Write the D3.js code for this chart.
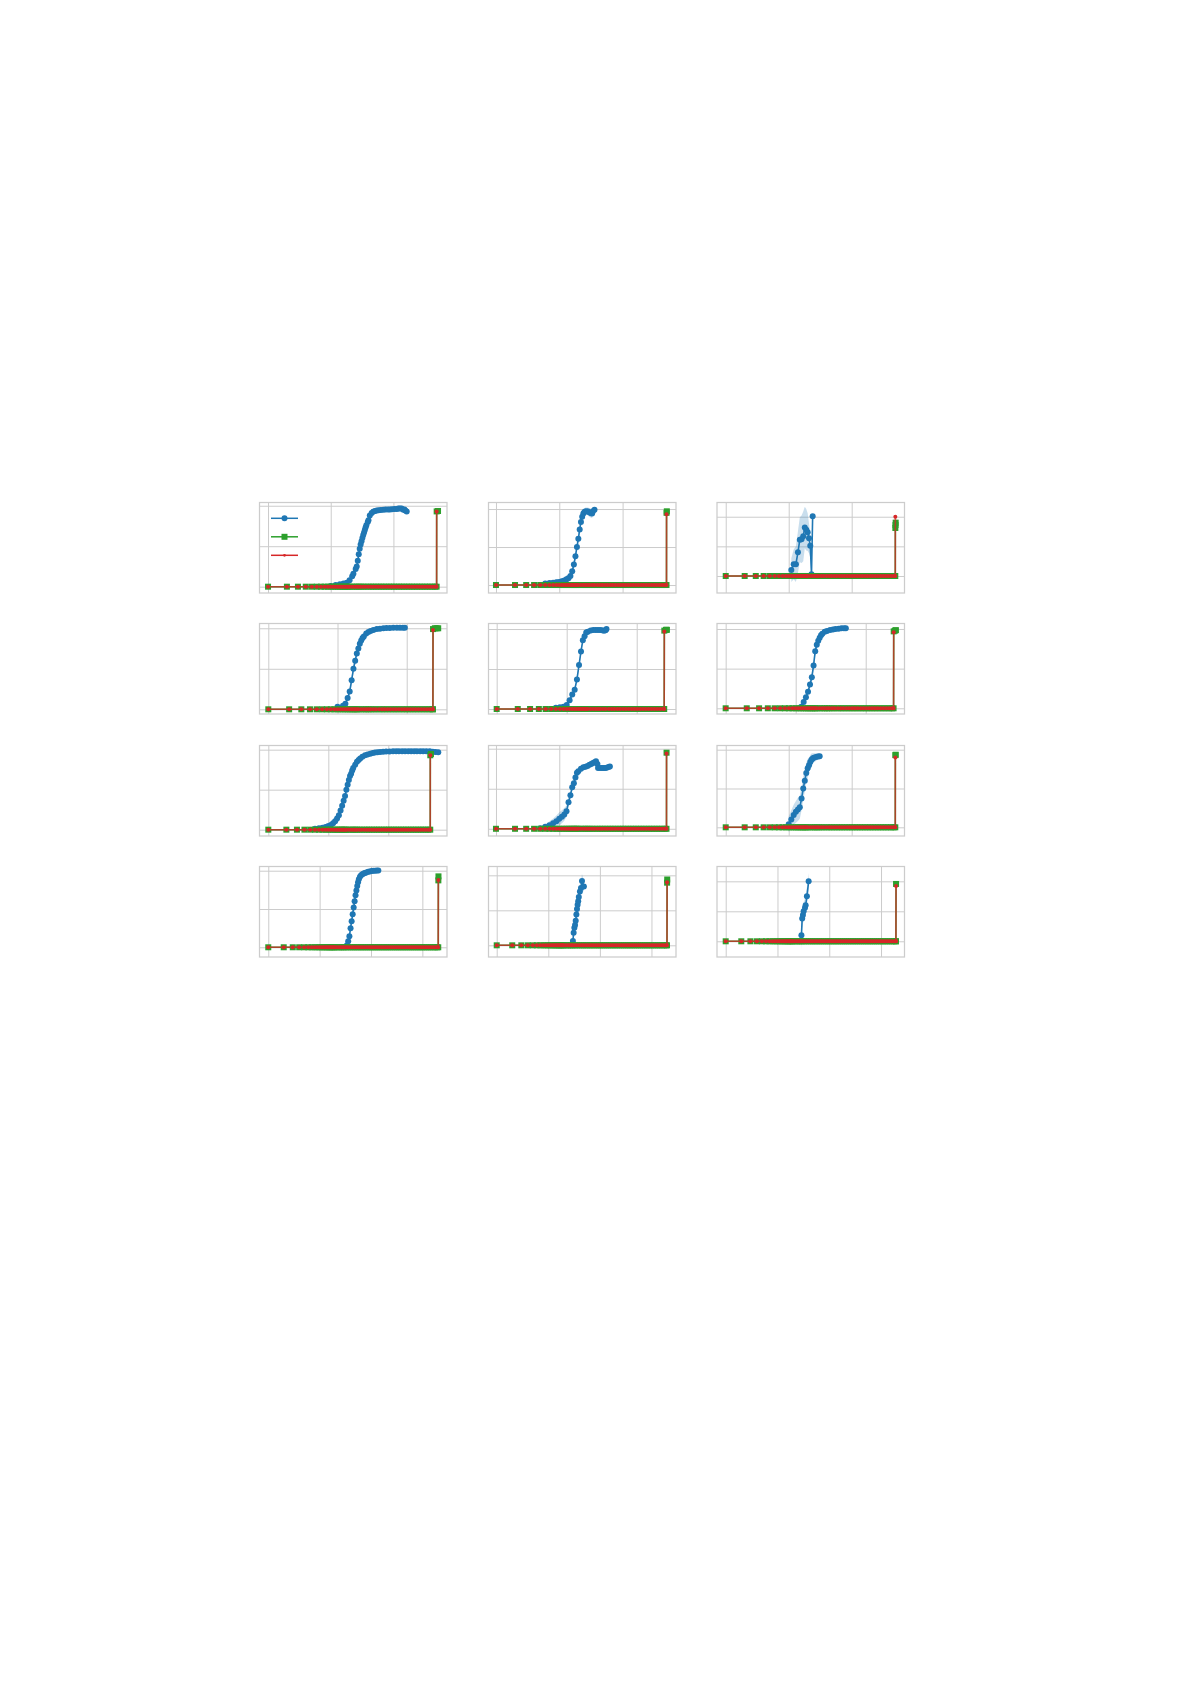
<!DOCTYPE html>
<html lang="en">
<head>
<meta charset="utf-8">
<title>Panels</title>
<script src="https://cdn.jsdelivr.net/npm/d3@7"></script>
<style>
  body { margin: 0; background: #fff; }
  svg { display: block; }
</style>
</head>
<body>
<script>

// panels are numbered row by row, left to right (0..11)

// axis limits (x is log)
var xLimits = [[0.731, 716], [0.762, 698], [0.727, 689],
               [0.746, 382], [0.764, 364], [0.752, 358],
               [0.713, 951], [0.762, 698], [0.727, 689],
               [0.675, 3020], [0.693, 2990], [0.679, 2840]];
var yLimits = [[-0.078, 1.04], [-0.105, 1.086], [-0.287, 1.24],
               [-0.058, 1.059], [-0.0625, 1.069], [-0.072, 1.069],
               [-0.079, 1.052], [-0.09, 1.04], [-0.112, 1.054],
               [-0.127, 1.055], [-0.167, 1.126], [-0.262, 1.247]];
// tick values (labels are not shown), one list per row
var xTicks = [[1, 10, 100], [1, 10, 100], [1, 10, 100], [1, 10, 100, 1000]];
var yTicks = [0, 0.5, 1];

// blue series: steps, mean and half width of the shaded band
var blueSteps = [
  [10,12,14,16,18, 20,22,23,25,26, 27,28,29,30,31, 32,33,34,35,36, 37,39,40,42,45, 48,51,54,58,63, 69,75,82,88,95, 104,113,120,127,135, 144,150,155,163],
  [6,7,8,9,10, 11,12,13,14,15, 16,17,18,19,20, 21,22,23,24,25, 26,28,30,32,33, 34,36],
  [11,12,13,14,15,16,17,18,19,20,21,22,23,24],
  [10,12,13,14,15, 16,17,18,19,20, 21,22,23,24,26, 28,30,33,37,41, 46,51,57,64,72, 80,88,94],
  [7,8,9,10,11, 12,13,14,15,16, 17,18,19,20,22, 24,26,28,30,32, 34,36,37],
  [12,13,14,15,16, 17,18,19,20,21, 22,23,24,26,28, 31,34,37,41,45, 49,52],
  [6,7,8,9,10, 11,12,13,14,15, 16,17,18,19,20, 21,22,23,24,25, 26,28,30,32,34, 37,41,45,50,55, 60,66,73,82,92, 105,120,135,150,170, 190,215,240,270,300, 340,380,430,490,550, 610,680],
  [5,6,7,8,9, 10,11,12,13,14, 15,16,17,18,19, 20,22,24,26,28, 30,32,34,36,38, 40,41,44,47,50, 53,56,60,63],
  [10,11,12,13,14, 15,16,17,18,19, 20,21,22,23,24, 25,27,29,31],
  [34,36,38,40,42, 44,46,48,50,52, 54,56,58,61,64, 68,72,76,81,88, 95,103,111,120,130, 139],
  [30,31,32,33,34,35,36,37,38,39,41,43,45,49],
  [29,30,31,32,34,35,37,40]
];
var blueMean = [
  [0.01,0.02,0.03,0.04,0.05, 0.08,0.13,0.16,0.22,0.25, 0.32,0.40,0.47,0.52,0.56, 0.60,0.64,0.67,0.70,0.73, 0.76,0.80,0.82,0.88,0.91, 0.93,0.935,0.94,0.945,0.948, 0.95,0.952,0.955,0.955,0.957, 0.96,0.96,0.965,0.967,0.965, 0.95,0.955,0.94,0.93],
  [0.02,0.025,0.03,0.035,0.04, 0.05,0.06,0.075,0.09,0.12, 0.18,0.27,0.38,0.5,0.61, 0.73,0.83,0.9,0.94,0.96, 0.97,0.97,0.955,0.945,0.94, 0.97,0.99],
  [0.10,0.197,0.20,0.40,0.61,0.62,0.67,0.82,0.78,0.74,0.635,0.51,0.03,1.01],
  [0.03,0.045,0.07,0.14,0.22, 0.36,0.5,0.6,0.69,0.75, 0.81,0.85,0.88,0.9,0.935, 0.955,0.967,0.98,0.99,0.995, 1.0,1.003,1.005,1.007,1.008, 1.008,1.008,1.008],
  [0.017,0.022,0.029,0.05,0.11, 0.18,0.24,0.37,0.55,0.72, 0.86,0.91,0.955,0.965,0.98, 0.988,0.988,0.988,0.988,0.985, 0.978,0.985,1.0],
  [0.02,0.08,0.14,0.21,0.3, 0.39,0.54,0.72,0.8,0.85, 0.89,0.92,0.94,0.965,0.975, 0.987,0.994,0.999,1.003,1.008, 1.008,1.008],
  [0.013,0.018,0.025,0.035,0.045, 0.06,0.08,0.105,0.14,0.18, 0.24,0.3,0.36,0.42,0.5, 0.56,0.62,0.67,0.7,0.74, 0.77,0.81,0.85,0.87,0.89, 0.91,0.93,0.94,0.95,0.958, 0.963,0.967,0.971,0.975,0.977, 0.978,0.979,0.979,0.979,0.979, 0.979,0.979,0.979,0.979,0.979, 0.979,0.979,0.979,0.979,0.975, 0.97,0.967],
  [0.008,0.025,0.045,0.07,0.095, 0.125,0.15,0.18,0.22,0.33, 0.42,0.52,0.57,0.64,0.7, 0.72,0.75,0.767,0.775,0.785, 0.8,0.81,0.82,0.83,0.842, 0.81,0.76,0.758,0.758,0.758, 0.758,0.762,0.77,0.779],
  [0.04,0.1,0.16,0.2,0.23, 0.26,0.37,0.5,0.6,0.7, 0.76,0.8,0.84,0.87,0.885, 0.895,0.905,0.912,0.915],
  [0.026,0.08,0.145,0.25,0.34, 0.43,0.52,0.6,0.68,0.74, 0.8,0.85,0.89,0.92,0.94, 0.955,0.965,0.97,0.978,0.985, 0.991,0.995,0.998,1.0,1.003, 1.004],
  [0.06,0.18,0.25,0.29,0.35,0.44,0.52,0.58,0.63,0.69,0.77,0.82,0.92,0.84],
  [0.1,0.38,0.44,0.5,0.56,0.6,0.75,1.0]
];
var blueSpread = [
  [0.01,0.01,0.015,0.02,0.02, 0.03,0.03,0.04,0.04,0.04, 0.05,0.05,0.05,0.05,0.05, 0.05,0.04,0.04,0.04,0.04, 0.03,0.03,0.03,0.02,0.02, 0.02,0.02,0.01,0.01,0.01, 0.01,0.01,0.01,0.01,0.01, 0.01,0.01,0.01,0.01,0.01, 0.01,0.01,0.01,0.01],
  [0.02,0.03,0.03,0.04,0.04, 0.04,0.04,0.05,0.05,0.05, 0.05,0.05,0.05,0.05,0.05, 0.05,0.05,0.05,0.05,0.05, 0.05,0.05,0.06,0.06,0.06, 0.04,0.03],
  [0.2,0.25,0.3,0.35,0.38,0.4,0.42,0.35,0.35,0.32,0.25,0.2,0.05,0.02],
  [0.01,0.015,0.02,0.03,0.04, 0.05,0.05,0.05,0.05,0.05, 0.04,0.04,0.03,0.03,0.02, 0.02,0.015,0.01,0.01,0.01, 0.01,0.01,0.01,0.01,0.01, 0.01,0.01,0.01],
  [0.01,0.01,0.015,0.02,0.03, 0.03,0.03,0.04,0.04,0.04, 0.03,0.03,0.02,0.02,0.02, 0.015,0.015,0.015,0.015,0.015, 0.015,0.015,0.01],
  [0.02,0.03,0.03,0.04,0.05, 0.06,0.06,0.06,0.06,0.05, 0.05,0.04,0.03,0.02,0.02, 0.01,0.01,0.01,0.01,0.01, 0.01,0.01],
  [0.01,0.01,0.015,0.02,0.03, 0.04,0.05,0.05,0.05,0.05, 0.05,0.05,0.04,0.04,0.03, 0.03,0.03,0.02,0.02,0.02, 0.015,0.015,0.01,0.01,0.01, 0.01,0.01,0.01,0.01,0.01, 0.01,0.01,0.01,0.01,0.01, 0.01,0.01,0.01,0.01,0.01, 0.01,0.01,0.01,0.01,0.01, 0.01,0.01,0.01,0.01,0.01, 0.01,0.01],
  [0.02,0.03,0.05,0.06,0.07, 0.08,0.08,0.08,0.07,0.06, 0.05,0.05,0.04,0.04,0.03, 0.03,0.03,0.03,0.03,0.03, 0.03,0.03,0.03,0.03,0.03, 0.02,0.02,0.02,0.02,0.02, 0.02,0.02,0.02,0.02],
  [0.1,0.12,0.13,0.14,0.15, 0.15,0.15,0.15,0.14,0.13, 0.12,0.1,0.09,0.08,0.07, 0.06,0.05,0.04,0.04],
  [0.03,0.03,0.03,0.03,0.03, 0.03,0.03,0.03,0.02,0.02, 0.02,0.02,0.02,0.02,0.02, 0.01,0.01,0.01,0.01,0.01, 0.01,0.01,0.01,0.01,0.01, 0.01],
  [0.1,0.1,0.1,0.1,0.1,0.1,0.1,0.1,0.1,0.1,0.1,0.1,0.1,0.08],
  [0.25,0.18,0.15,0.15,0.15,0.15,0.15,0.14]
];

// green and red sit at 0 on these steps until their last few evaluations
var baseSteps = [1,2,3,4,5,6,7,8,9,10,11,12,13,14,15,16,17,18,19,20,22,24,26,28,30,33,36,40,44,48,
  53,58,64,70,77,85,93,102,112,123,135,148,163,179,197,216,238,262,288,317,348,383,421,463,509,
  560,616,678,745,820,902,992,1091,1200,1320,1452,1597,1757,1933];

// last evaluations [step, value]
var greenTail = [
  [[489,0],[490,0.93],[515,0.935]],
  [[494,0],[495,0.95],[500,0.97]],
  [[492,0],[493,0.81],[496,0.86],[499,0.9]],
  [[239,0],[240,0.99],[255,1.0],[270,1.0],[285,1.0]],
  [[247,0],[248,0.98],[262,0.99],[270,0.99]],
  [[250,0],[251,0.97],[262,0.98],[270,0.985]],
  [[500,0],[501,0.93],[514,0.946]],
  [[494,0],[495,0.95]],
  [[492,0],[493,0.93],[500,0.935]],
  [[2040,0],[2050,0.874],[2060,0.926]],
  [[2000,0],[2010,0.895],[2020,0.94]],
  [[1940,0],[1950,0.956]]
];
var redTail = [
  [[489,0],[490,0.93]],
  [[494,0],[495,0.93]],
  [[492,0],[493,1.0]],
  [[239,0],[240,0.98]],
  [[247,0],[248,0.97]],
  [[250,0],[251,0.96]],
  [[500,0],[501,0.93]],
  [[494,0],[495,0.94]],
  [[492,0],[493,0.9]],
  [[2040,0],[2050,0.88]],
  [[2000,0],[2010,0.9]],
  [[1940,0],[1950,0.92]]
];

var legendSeries = ["blue", "green", "red"];

var colors = { blue: "#1f77b4", green: "#2ca02c", red: "#d62728" };

var W = 1192, H = 1685;
var colLeft = [259.5, 488.5, 717];
var rowTop = [502.5, 623.5, 745.5, 866.5];
var pw = 187.5, ph = 90.5;
var blueR = 3.0, sq = 6, redR = 2.0;

var svg = d3.select("body").append("svg").attr("width", W).attr("height", H);
svg.append("rect").attr("width", W).attr("height", H).attr("fill", "#fff");

for (var i = 0; i < 12; i++) drawPanel(i);
drawLegend();

function gridStyle(sel) {
  sel.select(".domain").remove();
  sel.selectAll("line").attr("stroke", "#cccccc").attr("stroke-width", 1);
}

function drawPanel(i) {
  var row = Math.floor(i / 3), col = i % 3;
  var g = svg.append("g")
    .attr("transform", "translate(" + colLeft[col] + "," + rowTop[row] + ")");

  var x = d3.scaleLog().domain(xLimits[i]).range([0, pw]);
  var y = d3.scaleLinear().domain(yLimits[i]).range([ph, 0]);

  g.append("clipPath").attr("id", "clip" + i)
    .append("rect").attr("width", pw).attr("height", ph);

  // grid
  g.append("g").attr("transform", "translate(0," + ph + ")")
    .call(d3.axisBottom(x).tickValues(xTicks[row]).tickSize(-ph).tickFormat(""))
    .call(gridStyle);
  g.append("g")
    .call(d3.axisLeft(y).tickValues(yTicks).tickSize(-pw).tickFormat(""))
    .call(gridStyle);

  var plot = g.append("g").attr("clip-path", "url(#clip" + i + ")");

  // blue: band, line, dots
  var blue = blueSteps[i].map(function(s, k) {
    return { x: s, y: blueMean[i][k], s: blueSpread[i][k] };
  });
  plot.append("path").datum(blue)
    .attr("d", d3.area()
      .x(function(d) { return x(d.x); })
      .y0(function(d) { return y(d.y - d.s); })
      .y1(function(d) { return y(d.y + d.s); }))
    .attr("fill", colors.blue).attr("fill-opacity", 0.24);

  var line = d3.line()
    .x(function(d) { return x(d.x); })
    .y(function(d) { return y(d.y); });

  plot.append("path").datum(blue).attr("d", line)
    .attr("fill", "none").attr("stroke", colors.blue).attr("stroke-width", 1.6);
  plot.selectAll(".bdot").data(blue).enter().append("circle")
    .attr("cx", function(d) { return x(d.x); })
    .attr("cy", function(d) { return y(d.y); })
    .attr("r", blueR).attr("fill", colors.blue);

  // green
  var firstG = greenTail[i][0][0];
  var green = baseSteps.filter(function(s) { return s < firstG; })
    .map(function(s) { return { x: s, y: 0 }; })
    .concat(greenTail[i].map(function(p) { return { x: p[0], y: p[1] }; }));
  plot.append("path").datum(green).attr("d", line)
    .attr("fill", "none").attr("stroke", colors.green).attr("stroke-width", 1.6);
  plot.selectAll(".gsq").data(green).enter().append("rect")
    .attr("x", function(d) { return x(d.x) - sq / 2; })
    .attr("y", function(d) { return y(d.y) - sq / 2; })
    .attr("width", sq).attr("height", sq).attr("fill", colors.green);

  // red
  var firstR = redTail[i][0][0];
  var red = baseSteps.filter(function(s) { return s < firstR; })
    .map(function(s) { return { x: s, y: 0 }; })
    .concat(redTail[i].map(function(p) { return { x: p[0], y: p[1] }; }));
  plot.append("path").datum(red).attr("d", line)
    .attr("fill", "none").attr("stroke", colors.red).attr("stroke-width", 1.6)
    .attr("stroke-opacity", 0.75);
  plot.selectAll(".rdot").data(red).enter().append("circle")
    .attr("cx", function(d) { return x(d.x); })
    .attr("cy", function(d) { return y(d.y); })
    .attr("r", redR).attr("fill", colors.red);

  // frame
  g.append("rect").attr("width", pw).attr("height", ph)
    .attr("fill", "none").attr("stroke", "#cccccc").attr("stroke-width", 1.25);
}

function drawLegend() {
  var lg = svg.append("g")
    .attr("transform", "translate(" + colLeft[0] + "," + rowTop[0] + ")");
  var items = lg.selectAll("g").data(legendSeries).enter().append("g")
    .attr("transform", function(d, k) { return "translate(0," + (15.8 + k * 18.5) + ")"; });
  items.append("line")
    .attr("x1", 11.5).attr("x2", 38.5)
    .attr("stroke", function(d) { return colors[d]; })
    .attr("stroke-width", 1.5);
  items.each(function(d) {
    var it = d3.select(this);
    if (d === "green") {
      it.append("rect").attr("x", 25 - sq / 2).attr("y", -sq / 2)
        .attr("width", sq).attr("height", sq).attr("fill", colors.green);
    } else {
      it.append("circle").attr("cx", 25).attr("cy", 0)
        .attr("r", d === "blue" ? blueR : 1.4).attr("fill", colors[d]);
    }
  });
}

</script>
</body>
</html>
